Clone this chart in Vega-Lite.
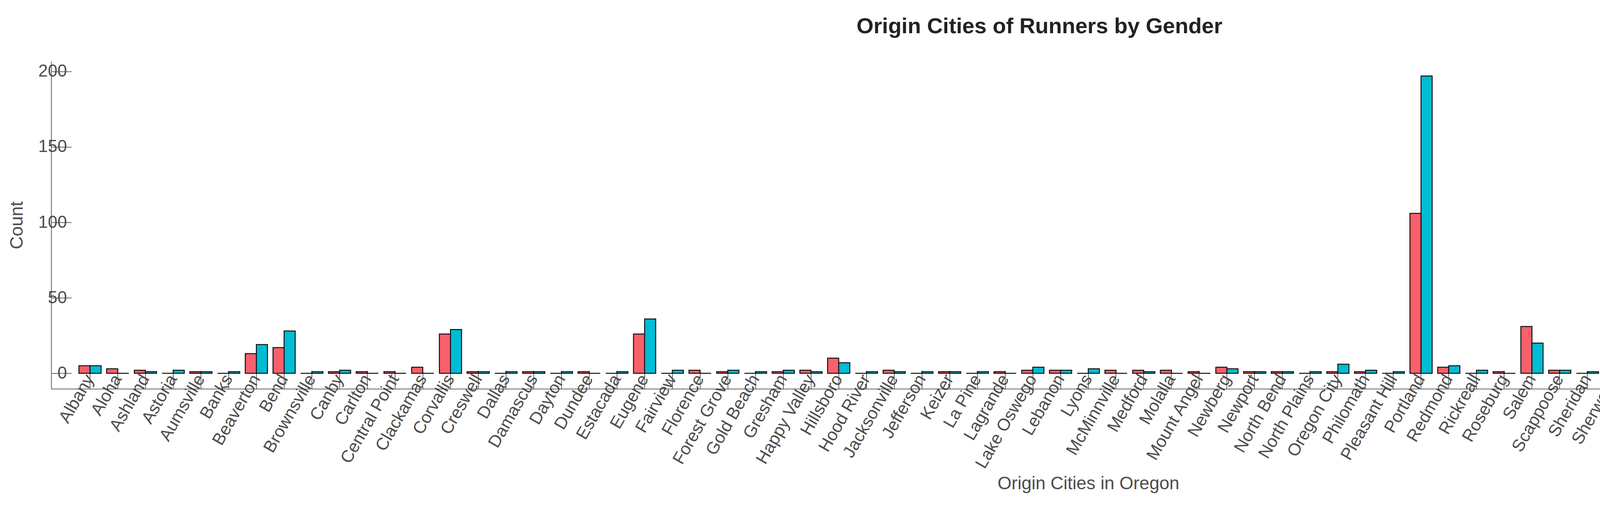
{
  "$schema": "https://vega.github.io/schema/vega-lite/v6.json",
  "autosize": {"type": "fit", "contains": "padding"},
  "width": 5831,
  "height": 1300,
  "padding": {"left": 20, "top": 40, "right": 390, "bottom": 40},
  "background": "white",
  "title": {"text": "Origin Cities of Runners by Gender", "fontSize": 56, "font": "Liberation Sans", "fontWeight": "bold", "color": "#222222", "offset": 60, "dx": -125},
  "config": {
    "font": "Liberation Sans",
    "view": {"stroke": null},
    "axis": {"labelFont": "Liberation Sans", "titleFont": "Liberation Sans", "labelFontSize": 44, "titleFontSize": 46, "labelColor": "#4d4d4d", "titleColor": "#4d4d4d", "titleFontWeight": "normal", "domainColor": "#333333", "tickColor": "#333333", "grid": false, "labelLimit": 0}
  },
  "data": {"values": [
    {"city":"Albany","M":5,"F":5},{"city":"Aloha","M":3,"F":0},{"city":"Ashland","M":2,"F":1},{"city":"Astoria","M":0,"F":2},{"city":"Aumsville","M":1,"F":1},{"city":"Banks","M":0,"F":1},{"city":"Beaverton","M":13,"F":19},{"city":"Bend","M":17,"F":28},{"city":"Brownsville","M":0,"F":1},{"city":"Canby","M":1,"F":2},{"city":"Carlton","M":1,"F":0},{"city":"Central Point","M":1,"F":0},{"city":"Clackamas","M":4,"F":0},{"city":"Corvallis","M":26,"F":29},{"city":"Creswell","M":1,"F":1},{"city":"Dallas","M":0,"F":1},{"city":"Damascus","M":1,"F":1},{"city":"Dayton","M":0,"F":1},{"city":"Dundee","M":1,"F":0},{"city":"Estacada","M":0,"F":1},{"city":"Eugene","M":26,"F":36},{"city":"Fairview","M":0,"F":2},{"city":"Florence","M":2,"F":0},{"city":"Forest Grove","M":1,"F":2},{"city":"Gold Beach","M":0,"F":1},{"city":"Gresham","M":1,"F":2},{"city":"Happy Valley","M":2,"F":1},{"city":"Hillsboro","M":10,"F":7},{"city":"Hood River","M":0,"F":1},{"city":"Jacksonville","M":2,"F":1},{"city":"Jefferson","M":0,"F":1},{"city":"Keizer","M":1,"F":1},{"city":"La Pine","M":0,"F":1},{"city":"Lagrande","M":1,"F":0},{"city":"Lake Oswego","M":2,"F":4},{"city":"Lebanon","M":2,"F":2},{"city":"Lyons","M":0,"F":3},{"city":"McMinnville","M":2,"F":0},{"city":"Medford","M":2,"F":1},{"city":"Molalla","M":2,"F":0},{"city":"Mount Angel","M":1,"F":0},{"city":"Newberg","M":4,"F":3},{"city":"Newport","M":1,"F":1},{"city":"North Bend","M":1,"F":1},{"city":"North Plains","M":0,"F":1},{"city":"Oregon City","M":1,"F":6},{"city":"Philomath","M":1,"F":2},{"city":"Pleasant Hill","M":0,"F":1},{"city":"Portland","M":106,"F":197},{"city":"Redmond","M":4,"F":5},{"city":"Rickreall","M":0,"F":2},{"city":"Roseburg","M":1,"F":0},{"city":"Salem","M":31,"F":20},{"city":"Scappoose","M":2,"F":2},{"city":"Sheridan","M":0,"F":1},{"city":"Sherwood","M":4,"F":2},{"city":"Silverton","M":4,"F":7},{"city":"Sisters","M":0,"F":2},{"city":"Springfield","M":2,"F":5},{"city":"St. Helens","M":0,"F":1},{"city":"Stayton","M":1,"F":1},{"city":"Sublimity","M":2,"F":2},{"city":"Sutherlin","M":0,"F":1},{"city":"Sweet Home","M":0,"F":3},{"city":"Talent","M":1,"F":0},{"city":"The Dalles","M":0,"F":1},{"city":"Tigard","M":7,"F":6},{"city":"Troutdale","M":0,"F":1},{"city":"Tualatin","M":1,"F":5},{"city":"Turner","M":2,"F":1},{"city":"Veneta","M":1,"F":1},{"city":"West Linn","M":6,"F":4},{"city":"Wilsonville","M":1,"F":0}
  ]},
  "transform": [
    {"fold": ["M", "F"], "as": ["g", "count"]},
    {"calculate": "datum.g === 'M' ? 'Male' : 'Female'", "as": "gender"}
  ],
  "mark": {"type": "bar", "stroke": "#111111", "strokeWidth": 2.5},
  "encoding": {
    "x": {"field": "city", "type": "nominal", "sort": null,
      "scale": {"paddingInner": 0.2, "paddingOuter": 3.75},
      "axis": {"title": "Origin Cities in Oregon", "labelAngle": -60, "tickSize": -47, "tickWidth": 1.5, "labelPadding": 14, "titlePadding": 20, "domainWidth": 1.5}},
    "xOffset": {"field": "gender", "type": "nominal", "sort": ["Male", "Female"]},
    "y": {"field": "count", "type": "quantitative",
      "scale": {"domain": [-10.3, 206.7], "nice": false, "zero": false},
      "axis": {"title": "Count", "values": [0, 50, 100, 150, 200], "tickSize": -52, "tickWidth": 1.5, "labelPadding": 12, "titlePadding": 30, "domainWidth": 1.5}},
    "y2": {"datum": 0},
    "color": {"field": "gender", "type": "nominal", "sort": ["Male", "Female"],
      "scale": {"domain": ["Male", "Female"], "range": ["#F8606B", "#00BCD4"]},
      "legend": {"title": "Color", "titleFontSize": 52, "titleFontWeight": "bold", "titleColor": "#222222", "labelFontSize": 46, "labelColor": "#222222", "symbolType": "stroke", "symbolSize": 15000, "symbolStrokeWidth": 12, "rowPadding": 34, "labelOffset": 60, "titlePadding": 40, "orient": "none", "legendX": 5259, "legendY": 380}}
  }
}
